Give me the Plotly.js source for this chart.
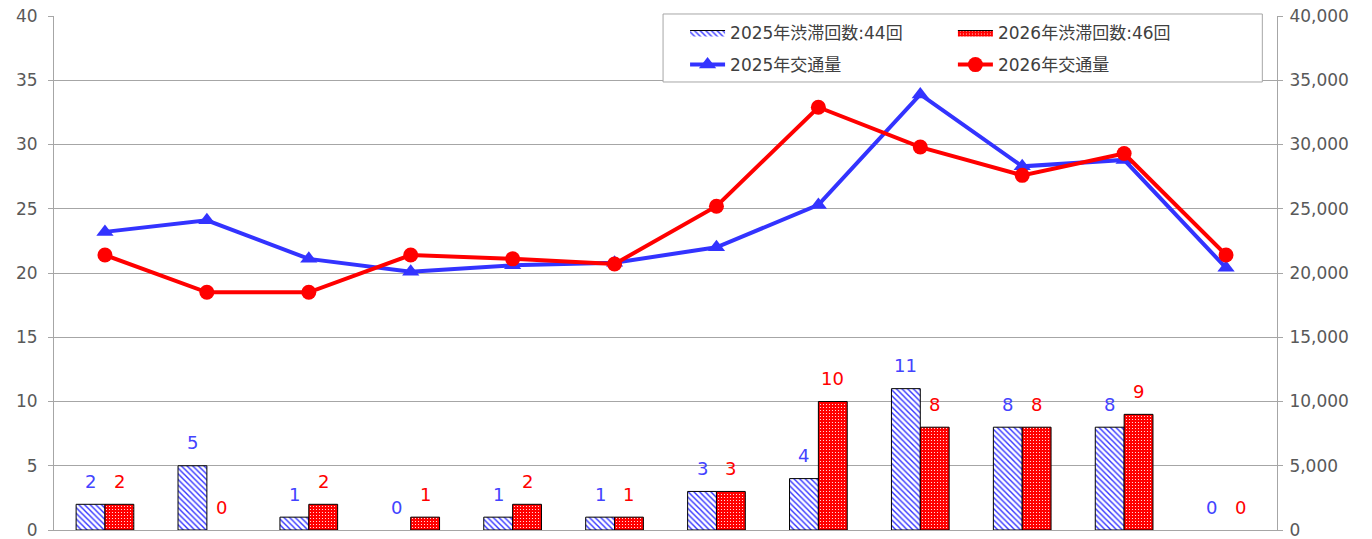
<!DOCTYPE html>
<html>
<head>
<meta charset="utf-8">
<script src="https://cdn.plot.ly/plotly-3.0.1.min.js"></script>
<style>
html,body{margin:0;padding:0;background:#fff;}
#chart{width:1372px;height:539px;}
</style>
</head>
<body>
<div id="chart"></div>
<script>
// ---- data ----
const categories = ['1月','2月','3月','4月','5月','6月','7月','8月','9月','10月','11月','12月'];
const jam2025 = [2, 5, 1, 0, 1, 1, 3, 4, 11, 8, 8, 0];
const jam2026 = [2, 0, 2, 1, 2, 1, 3, 10, 8, 8, 9, 0];
const traffic2025 = [23200, 24100, 21100, 20100, 20600, 20800, 22000, 25300, 33900, 28300, 28800, 20400];
const traffic2026 = [21400, 18500, 18500, 21400, 21100, 20700, 25200, 32900, 29800, 27600, 29300, 21400];
const nameJam2025 = '2025年渋滞回数:44回';
const nameJam2026 = '2026年渋滞回数:46回';
const nameTraffic2025 = '2025年交通量';
const nameTraffic2026 = '2026年交通量';

// ---- styles ----
const FONT = 'DejaVu Sans, Noto Sans CJK JP, sans-serif';
const BLUE = '#3333ff';
const RED = '#ff0000';
const LBLUE = '#4343ff';
const GRID = '#a6a6a6';
const pat2025 = {shape: '\\', fgcolor: BLUE, bgcolor: '#ffffff', size: 4, solidity: 0.35};
const pat2026 = {shape: '.', fgcolor: '#ffffff', bgcolor: RED, size: 3, solidity: 0.12};
const edge = v => v.map(d => (d ? 1 : 0));

const traces = [
  // legend swatches (no data points)
  {type: 'scatter', x: [null], y: [null], mode: 'lines', fill: 'toself', name: nameJam2025,
   fillcolor: '#ffffff', fillpattern: pat2025, line: {color: '#000', width: 1},
   legend: 'legend', legendgroup: 'a', hoverinfo: 'skip'},
  {type: 'scatter', x: [null], y: [null], mode: 'lines', fill: 'toself', name: nameJam2026,
   fillcolor: RED, fillpattern: pat2026, line: {color: '#000', width: 1},
   legend: 'legend2', legendgroup: 'b', hoverinfo: 'skip'},
  {type: 'bar', x: categories, y: jam2025, name: nameJam2025, showlegend: false,
   marker: {color: '#ffffff', pattern: pat2025, line: {color: '#000', width: edge(jam2025)}}},
  {type: 'bar', x: categories, y: jam2026, name: nameJam2026, showlegend: false,
   marker: {color: RED, pattern: pat2026, line: {color: '#000', width: edge(jam2026)}}},
  {type: 'scatter', x: categories, y: traffic2025, yaxis: 'y2', name: nameTraffic2025,
   mode: 'lines+markers', line: {color: BLUE, width: 4},
   marker: {symbol: 'triangle-up', size: 15, color: BLUE},
   legend: 'legend', legendgroup: 'c'},
  {type: 'scatter', x: categories, y: traffic2026, yaxis: 'y2', name: nameTraffic2026,
   mode: 'lines+markers', line: {color: RED, width: 4},
   marker: {symbol: 'circle', size: 15, color: RED},
   legend: 'legend2', legendgroup: 'd'}
];

const annotations = [];
categories.forEach((c, i) => {
  annotations.push({x: c, y: jam2025[i], xref: 'x', yref: 'y', text: String(jam2025[i]),
    showarrow: false, xshift: -14.4, yshift: 23, yanchor: 'middle',
    font: {family: FONT, size: 18, color: LBLUE}});
  annotations.push({x: c, y: jam2026[i], xref: 'x', yref: 'y', text: String(jam2026[i]),
    showarrow: false, xshift: 14.4, yshift: 23, yanchor: 'middle',
    font: {family: FONT, size: 18, color: RED}});
});

const legendCommon = {
  orientation: 'v', bgcolor: 'rgba(0,0,0,0)', borderwidth: 0,
  traceorder: 'grouped', tracegroupgap: 7, itemwidth: 35,
  font: {family: FONT, size: 17, color: '#404040'},
  xanchor: 'left', yanchor: 'top', xref: 'paper', yref: 'paper'
};

const layout = {
  width: 1372, height: 539,
  margin: {l: 54, r: 95, t: 16, b: 9, pad: 0},
  paper_bgcolor: '#ffffff', plot_bgcolor: '#ffffff',
  font: {family: FONT, size: 17, color: '#595959'},
  barmode: 'group', bargap: 0.434, bargroupgap: 0,
  showlegend: true,
  xaxis: {type: 'category', range: [-0.5, 11.5], showticklabels: false, ticks: '', showgrid: false,
    showline: true, linecolor: GRID, linewidth: 1, zeroline: false},
  yaxis: {range: [0, 40], dtick: 5, tick0: 0, showgrid: true, gridcolor: GRID, gridwidth: 1,
    showline: true, linecolor: GRID, linewidth: 1, ticks: 'outside', ticklen: 5, tickcolor: GRID,
    zeroline: false, ticklabeloverflow: 'allow', ticklabelstandoff: 7,
    tickfont: {family: FONT, size: 17, color: '#595959'}},
  yaxis2: {range: [0, 40000], dtick: 5000, tick0: 0, overlaying: 'y', side: 'right',
    tickformat: ',d', showgrid: false, showline: true, linecolor: GRID, linewidth: 1,
    ticks: 'outside', ticklen: 5, tickcolor: GRID, zeroline: false,
    ticklabeloverflow: 'allow', ticklabelstandoff: 3,
    tickfont: {family: FONT, size: 17, color: '#595959'}},
  legend: Object.assign({}, legendCommon, {x: 0.516, y: 1.002}),
  legend2: Object.assign({}, legendCommon, {x: 0.735, y: 1.002}),
  shapes: [{type: 'rect', xref: 'paper', yref: 'paper', x0: 0.498, x1: 0.988, y0: 0.8716, y1: 1.0039,
    fillcolor: '#ffffff', line: {color: '#a6a6a6', width: 1}, layer: 'above'}],
  annotations: annotations
};

Plotly.newPlot('chart', traces, layout, {displayModeBar: false, staticPlot: true});
</script>
</body>
</html>
